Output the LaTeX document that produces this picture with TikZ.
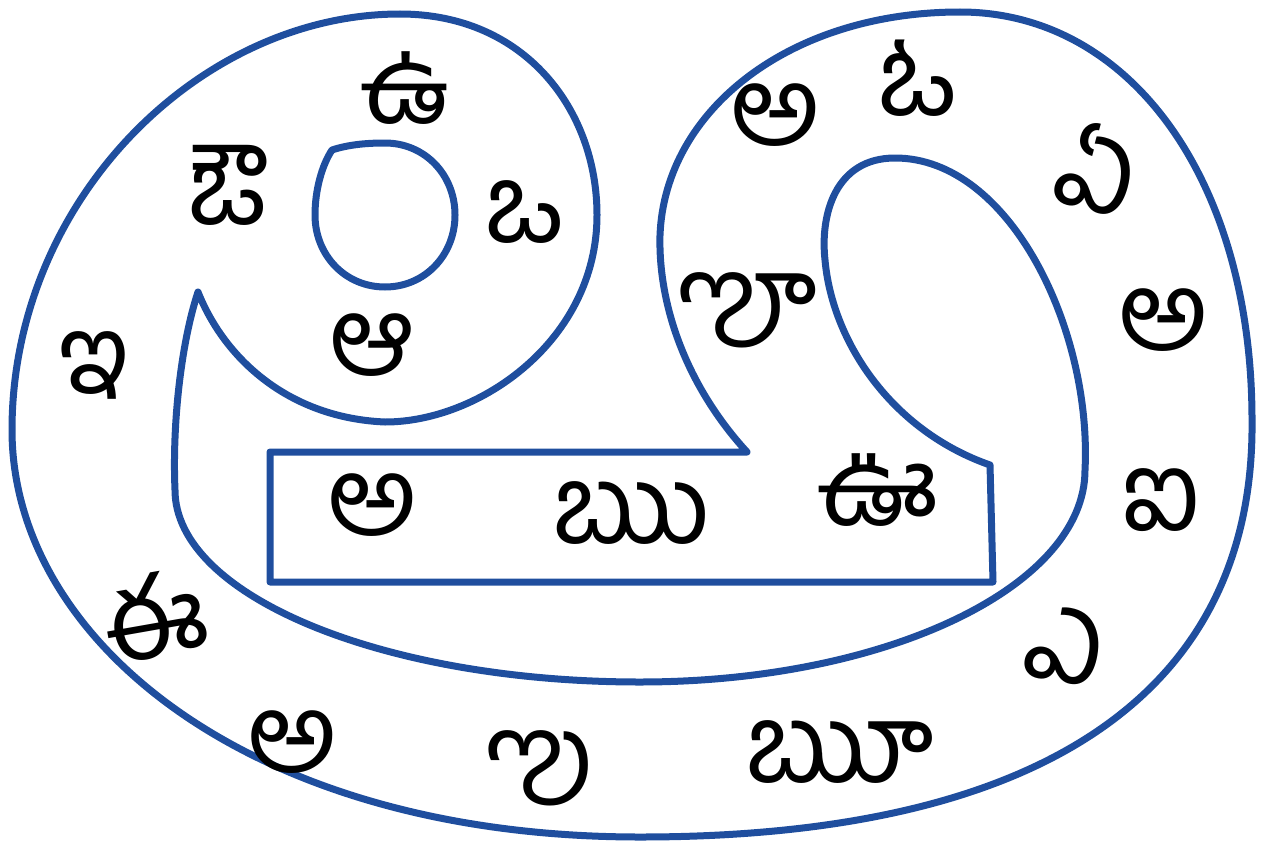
\documentclass[tikz,border=0pt]{standalone}
\usepackage{fontspec}
\newfontfamily\telugu[Script=Telugu]{Hind Guntur}
\definecolor{lobeblue}{RGB}{31,78,158}
\begin{document}
\begin{tikzpicture}[x=1pt,y=-1pt,
  letter/.style={font=\telugu\fontsize{110}{114}\selectfont, inner sep=0pt},
  outline/.style={draw=lobeblue, line width=7pt, line join=round}]
\useasboundingbox (0,0) rectangle (1265,843);
% outline of the big letter
\draw[outline] (198,292) .. controls (182,340) and (172,420) .. (175,490)
  .. controls (175,596) and (384,682) .. (640,682)
  .. controls (885,682) and (1085,587) .. (1085,470)
  .. controls (1092,330) and (1010,158) .. (895,158)
  .. controls (835,158) and (820,215) .. (825,260)
  .. controls (832,340) and (890,430) .. (990,465)
  -- (993,582) -- (270,582) -- (270,452) -- (747,452)
  .. controls (690,390) and (658,310) .. (660,235)
  .. controls (665,110) and (790,12) .. (960,12)
  .. controls (1130,12) and (1252,180) .. (1252,420)
  .. controls (1255,680) and (1060,837) .. (640,837)
  .. controls (250,837) and (12,640) .. (12,430)
  .. controls (12,200) and (200,14) .. (400,14)
  .. controls (525,14) and (597,110) .. (597,215)
  .. controls (597,340) and (480,422) .. (385,422)
  .. controls (290,418) and (225,360) .. (198,292) -- cycle;
% hole of the left bubble
\draw[outline] (332,150) .. controls (350,144) and (370,143) .. (385,143)
  .. controls (425,143) and (455,175) .. (455,215)
  .. controls (455,255) and (425,287) .. (385,287)
  .. controls (345,287) and (315,255) .. (315,215)
  .. controls (315,190) and (322,165) .. (332,150) -- cycle;
% letters in the left bubble
\node[letter] (u) at (405,88) {ఉ};
\node[letter] (au) at (230,185) {ఔ};
\node[letter] (o) at (525,212) {ఒ};
\node[letter] (aa) at (372,345) {ఆ};
% letters in the right lobe
\node[letter] (a1) at (775,115) {అ};
\node[letter] (oo) at (918,78) {ఓ};
\node[letter, rotate=-15] (ee) at (1098,168) {ఏ};
\node[letter] (lluu) at (748,310) {ౡ};
\node[letter] (a2) at (1163,320) {అ};
% letters in the bar
\node[letter] (a3) at (372,505) {అ};
\node[letter] (ru) at (632,513) {ఋ};
\node[letter] (uu) at (878,490) {ఊ};
% letters round the outside
\node[letter] (i) at (95,365) {ఇ};
\node[letter, rotate=10] (ii) at (155,615) {ఈ};
\node[letter] (a4) at (292,742) {అ};
\node[letter] (lu) at (540,768) {ఌ};
\node[letter] (ruu) at (840,752) {ౠ};
\node[letter, rotate=-10] (e) at (1065,645) {ఎ};
\node[letter] (ai) at (1162,500) {ఐ};
\end{tikzpicture}
\end{document}
